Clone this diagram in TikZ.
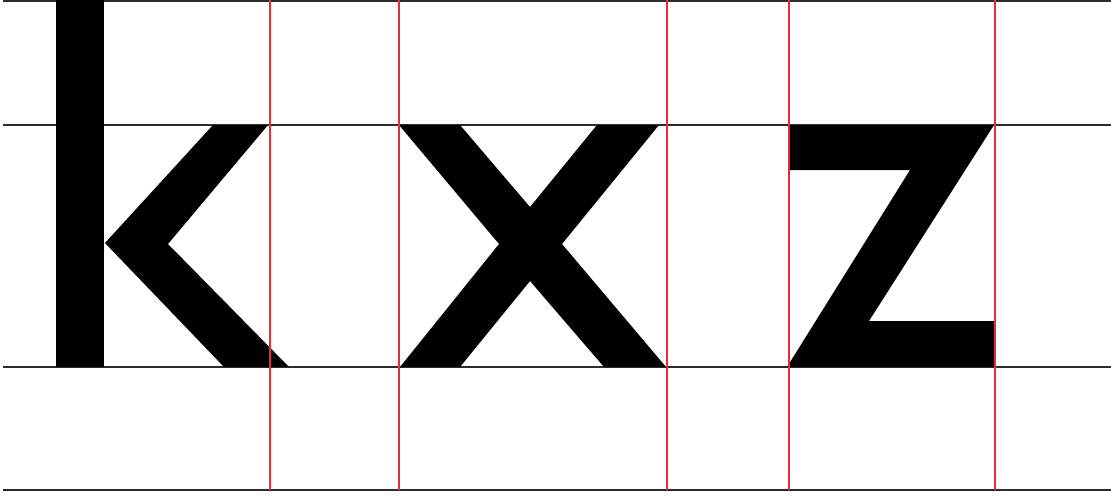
\documentclass[tikz,border=0pt]{standalone}
\definecolor{guidered}{RGB}{228,48,52}
\definecolor{guidegray}{RGB}{45,45,45}
\tikzset{
  hguide/.style={draw=guidegray,line width=1.6pt},
  vguide/.style={draw=guidered,line width=1.4pt},
  glyph/.style={fill=black,draw=none}
}
\begin{document}
\begin{tikzpicture}[x=1pt,y=-1pt]
\useasboundingbox (0,0) rectangle (1111,498);
% horizontal guide lines
\foreach \yy in {1,125,367,490} \draw[hguide] (3,\yy) -- (1111,\yy);
% letter k
\fill[glyph] (56,0) rectangle (104,367);
\fill[glyph] (213,125) -- (268,125) -- (168,244) -- (289,367) -- (224,367) -- (105,243) -- cycle;
% letter x
\fill[glyph] (399,125) -- (460,125) -- (530,207) -- (597,125) -- (659,125) -- (562,244)
  -- (666,367) -- (604,367) -- (530,281) -- (460,367) -- (400,367) -- (499,244) -- cycle;
% letter z
\fill[glyph] (790,125) -- (994,125) -- (869,321) -- (995,321) -- (995,367) -- (787,367)
  -- (910,170) -- (790,170) -- cycle;
% vertical red guides
\foreach \xx in {270,399,667,789,995} \draw[vguide] (\xx,0) -- (\xx,490);
\end{tikzpicture}
\end{document}
